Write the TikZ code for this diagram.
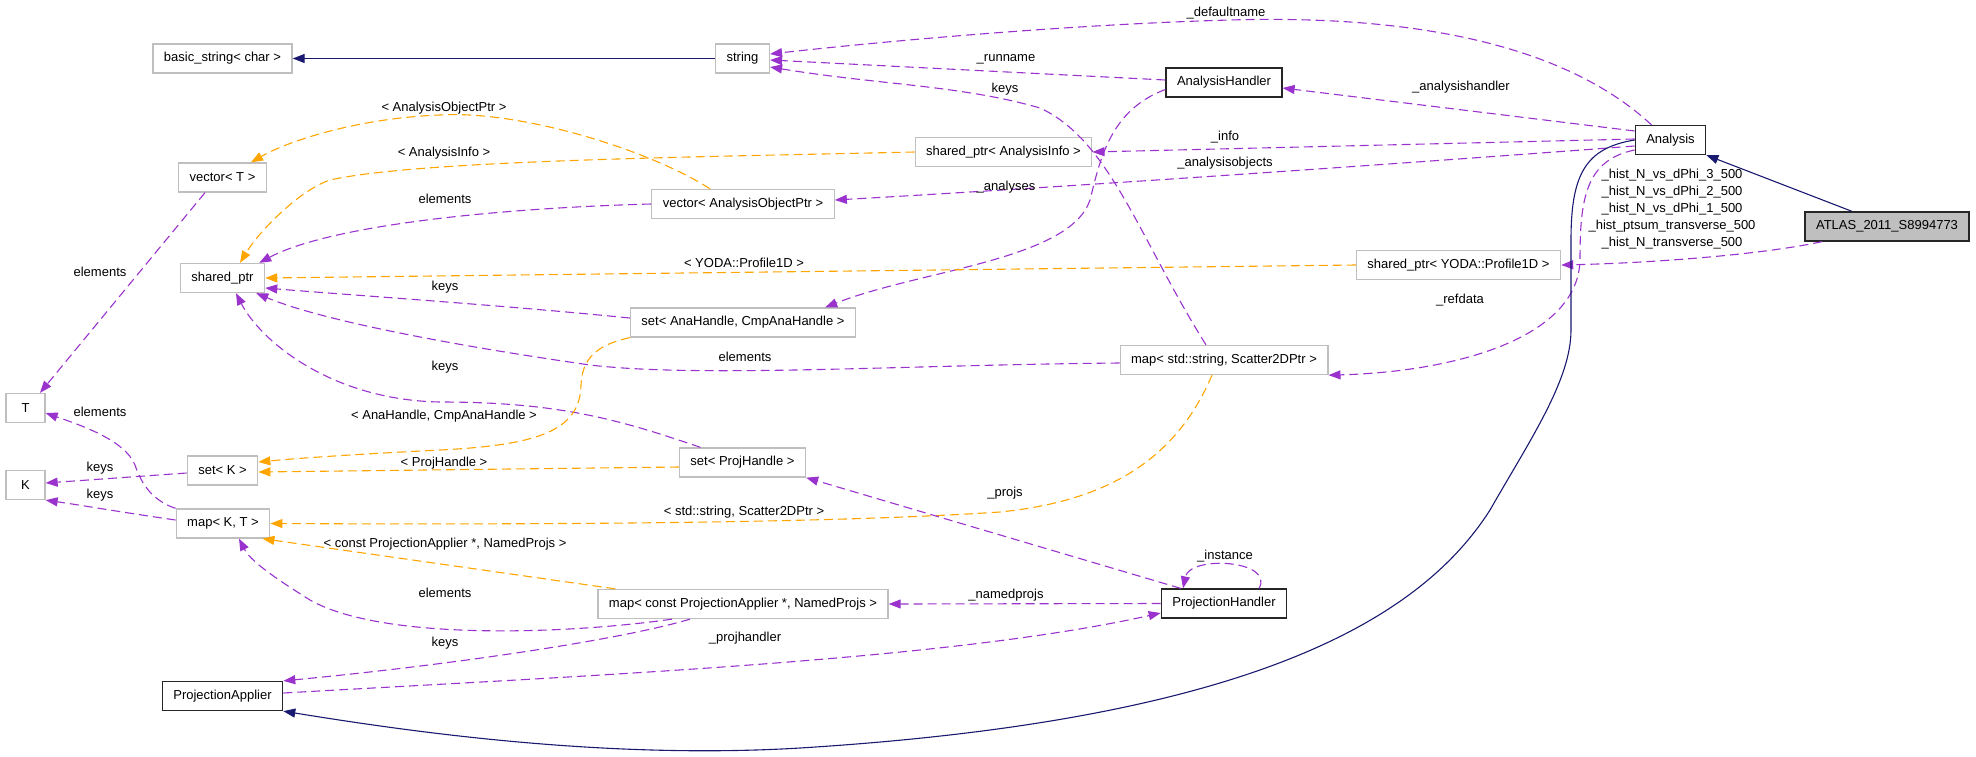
\documentclass[tikz,border=0pt]{standalone}
\usepackage{fontspec}
\setmainfont{Liberation Sans}
\usetikzlibrary{arrows.meta}

\definecolor{edgeblue}{HTML}{191970}
\definecolor{edgepurple}{HTML}{9A32CD}
\definecolor{edgeorange}{HTML}{FFA500}
\definecolor{boxgray}{HTML}{BFBFBF}

\begin{document}
\begin{tikzpicture}[x = 1pt, y = -1pt,
	every node/.style = {font = \fontsize{13}{15}\selectfont},
	cls/.style = {draw = black!85, line width = 1.3pt, fill = white, inner xsep = 11pt, inner ysep = 0pt, minimum height = 29pt},
	ext/.style = {cls, draw = boxgray},
	cur/.style = {cls, fill = boxgray, draw = black!85},
	lbl/.style = {inner sep = 0pt},
	inhedge/.style = {draw = edgeblue, line width = 1.1pt, -{Triangle[length = 12pt, width = 9pt]}},
	usedge/.style = {draw = edgepurple, line width = 1.1pt, dash pattern = on 9pt off 5pt, -{Triangle[length = 12pt, width = 9pt]}},
	tpledge/.style = {usedge, draw = edgeorange}]
	\useasboundingbox (0, 0) rectangle (1976, 756);

	\node[ext] (basicstr) at (222.5, 58.5) {basic\_string< char >};
	\node[ext] (string) at (742.5, 58.5) {string};
	\node[cls] (anahandler) at (1224, 82.5) {AnalysisHandler};
	\node[cls] (analysis) at (1670.5, 140) {Analysis};
	\node[cur] (atlas) at (1887, 226.5) {ATLAS\_2011\_S8994773};
	\node[ext] (sptrinfo) at (1003.5, 152) {shared\_ptr< AnalysisInfo >};
	\node[ext] (vecaop) at (743, 204) {vector< AnalysisObjectPtr >};
	\node[ext] (vect) at (222.5, 177.5) {vector< T >};
	\node[ext] (sptr) at (222.5, 278) {shared\_ptr};
	\node[ext] (sptryoda) at (1458.5, 265) {shared\_ptr< YODA::Profile1D >};
	\node[ext] (setana) at (743, 322.5) {set< AnaHandle, CmpAnaHandle >};
	\node[ext] (mapscat) at (1224, 360) {map< std::string, Scatter2DPtr >};
	\node[ext, minimum width = 39pt] (tnode) at (25.5, 408) {T};
	\node[ext, minimum width = 39pt] (knode) at (25.5, 485) {K};
	\node[ext] (setk) at (222.5, 470.5) {set< K >};
	\node[ext] (setproj) at (742.5, 462.5) {set< ProjHandle >};
	\node[ext] (mapkt) at (223, 523.5) {map< K, T >};
	\node[ext] (mapproj) at (743, 604) {map< const ProjectionApplier *, NamedProjs >};
	\node[cls] (projhandler) at (1224, 603.5) {ProjectionHandler};
	\node[cls] (projapplier) at (222.5, 696) {ProjectionApplier};

	\draw[inhedge] (string.west) -- (basicstr.east);
	\draw[usedge] ([xshift = -19pt]analysis.north) .. controls (1560, 40) and (1400, 15) .. (1230, 20) .. controls (1050, 25) and (850, 45) .. ([yshift = 4.5pt]string.east);
	\draw[usedge] ([yshift = 2.5pt]anahandler.west) -- ([yshift = -1.5pt]string.east);
	\draw[usedge] ([xshift = -18pt]mapscat.north) .. controls (1140, 240) and (1110, 140) .. (1040, 108) .. controls (960, 85) and (880, 85) .. ([yshift = -8.5pt]string.east);
	\draw[usedge] ([yshift = 9pt]analysis.west) -- ([yshift = -5.5pt]anahandler.east);
	\draw[usedge] ([yshift = -7pt]anahandler.west) .. controls (1110, 110) and (1100, 160) .. (1090, 200) .. controls (1070, 260) and (920, 270) .. ([xshift = -31pt]setana.north east);
	\draw[usedge] ([yshift = 1pt]analysis.west) -- (sptrinfo.east);
	\draw[usedge] ([yshift = -6pt]analysis.west) .. controls (1450, 160) and (1100, 185) .. ([yshift = 4pt]vecaop.east);
	\draw[inhedge] ([xshift = -35pt]atlas.north) -- (analysis.south east);
	\draw[usedge] ([xshift = -65pt]atlas.south) .. controls (1760, 255) and (1650, 263) .. (sptryoda.east);
	\draw[usedge] ([yshift = -10pt]analysis.west) .. controls (1585, 160) and (1580, 200) .. (1580, 260) .. controls (1578, 340) and (1450, 372) .. (mapscat.south east);
	\draw[inhedge] (analysis.west) .. controls (1585, 148) and (1571, 175) .. (1571, 240) -- (1571, 330) .. controls (1571, 380) and (1530, 440) .. (1490, 510) .. controls (1420, 620) and (1250, 720) .. (800, 748) .. controls (600, 760) and (400, 730) .. (projapplier.south east);

	\draw[tpledge] ([xshift = -33pt]vecaop.north) .. controls (650, 150) and (520, 110) .. (440, 115) .. controls (360, 118) and (290, 140) .. ([xshift = -16pt]vect.north east);
	\draw[tpledge] (sptrinfo.west) .. controls (700, 157) and (420, 160) .. (330, 180) .. controls (300, 190) and (260, 230) .. ([xshift = 17.5pt]sptr.north);
	\draw[usedge] (vecaop.west) .. controls (500, 208) and (330, 225) .. ([xshift = -6pt]sptr.north east);
	\draw[usedge] ([xshift = -17.5pt]vect.south) -- ([xshift = 14.5pt]tnode.north);
	\draw[tpledge] (sptryoda.west) -- (sptr.east);
	\draw[usedge] ([yshift = 4.5pt]setana.west) .. controls (500, 305) and (350, 295) .. ([yshift = -10pt]sptr.east);
	\draw[usedge] ([yshift = -3pt]mapscat.west) .. controls (900, 365) and (700, 378) .. (590, 365) .. controls (450, 345) and (320, 320) .. ([xshift = -9pt]sptr.south east);
	\draw[usedge] ([xshift = -42pt]setproj.north) .. controls (620, 420) and (560, 402) .. (440, 402) .. controls (330, 400) and (260, 340) .. ([xshift = 13.5pt]sptr.south);
	\draw[tpledge] (setana.south west) .. controls (595, 345) and (582, 360) .. (581, 385) .. controls (580, 430) and (540, 445) .. (440, 450) .. controls (360, 454) and (300, 458) .. ([yshift = 8.5pt]setk.east);
	\draw[tpledge] ([yshift = -4.5pt]setproj.west) -- ([yshift = -1.5pt]setk.east);
	\draw[usedge] ([yshift = -2.5pt]setk.west) -- ([yshift = 2pt]knode.east);
	\draw[usedge] ([yshift = 3.5pt]mapkt.west) .. controls (120, 512) and (80, 505) .. (knode.south east);
	\draw[usedge] (mapkt.north west) .. controls (150, 500) and (140, 480) .. (135, 465) .. controls (125, 440) and (80, 425) .. ([yshift = -5pt]tnode.east);
	\draw[tpledge] ([xshift = -12pt]mapscat.south) .. controls (1180, 450) and (1120, 500) .. (1000, 512) .. controls (850, 522) and (600, 525) .. (mapkt.east);
	\draw[tpledge] ([xshift = 18pt]mapproj.north west) -- ([xshift = -8pt]mapkt.south east);
	\draw[usedge] ([xshift = -71pt]mapproj.south) .. controls (560, 635) and (380, 640) .. (310, 600) .. controls (270, 575) and (250, 560) .. ([xshift = 16pt]mapkt.south);
	\draw[usedge] ([xshift = -53pt]mapproj.south) .. controls (620, 640) and (450, 665) .. (projapplier.north east);
	\draw[usedge] ([yshift = 3pt]projapplier.east) .. controls (600, 675) and (950, 660) .. ([yshift = -9.5pt]projhandler.west);
	\draw[usedge] (projhandler.west) -- (mapproj.east);
	\draw[usedge] ([xshift = 20pt]projhandler.north west) -- (setproj.south east);
	\draw[usedge] ([xshift = 35pt]projhandler.north) .. controls (1275, 560) and (1190, 555) .. ([xshift = -41pt]projhandler.north);

	\node[lbl] (lbldefault) at (1226, 13) {\_defaultname};
	\node[lbl] (lblrun) at (1006, 59) {\_runname};
	\node[lbl] (lblkeysstr) at (1005, 89) {keys};
	\node[lbl] (lblhandler) at (1461, 87) {\_analysishandler};
	\node[lbl] (lblinfo) at (1225, 137) {\_info};
	\node[lbl] (lblobjects) at (1225, 163) {\_analysisobjects};
	\node[lbl] (lblanalyses) at (1006, 187) {\_analyses};
	\node[lbl] (lblaop) at (444, 108) {< AnalysisObjectPtr >};
	\node[lbl] (lblainfo) at (444, 153) {< AnalysisInfo >};
	\node[lbl] (lblelemvec) at (445, 199) {elements};
	\node[lbl, align = center] (lblhist) at (1672, 209.5) {\_hist\_N\_vs\_dPhi\_3\_500\\[2pt] \_hist\_N\_vs\_dPhi\_2\_500\\[2pt] \_hist\_N\_vs\_dPhi\_1\_500\\[2pt] \_hist\_ptsum\_transverse\_500\\[2pt] \_hist\_N\_transverse\_500};
	\node[lbl] (lblelemt) at (100, 272) {elements};
	\node[lbl] (lblyoda) at (744, 263) {< YODA::Profile1D >};
	\node[lbl] (lblkeysana) at (445, 287) {keys};
	\node[lbl] (lblref) at (1460, 300) {\_refdata};
	\node[lbl] (lblelemscat) at (745, 357) {elements};
	\node[lbl] (lblkeysproj) at (445, 367) {keys};
	\node[lbl] (lblelemkt) at (100, 412) {elements};
	\node[lbl] (lblanacmp) at (444, 416) {< AnaHandle, CmpAnaHandle >};
	\node[lbl] (lblprojh) at (444, 463) {< ProjHandle >};
	\node[lbl] (lblkeysk) at (100, 468) {keys};
	\node[lbl] (lblprojs) at (1005, 493) {\_projs};
	\node[lbl] (lblkeyskt) at (100, 495) {keys};
	\node[lbl] (lblscat) at (744, 512) {< std::string, Scatter2DPtr >};
	\node[lbl] (lblconst) at (445, 544) {< const ProjectionApplier *, NamedProjs >};
	\node[lbl] (lblinst) at (1225, 556) {\_instance};
	\node[lbl] (lblelemproj) at (445, 593) {elements};
	\node[lbl] (lblnamed) at (1006, 595) {\_namedprojs};
	\node[lbl] (lblprojhandler) at (745, 638) {\_projhandler};
	\node[lbl] (lblkeysapp) at (445, 643) {keys};
\end{tikzpicture}
\end{document}
